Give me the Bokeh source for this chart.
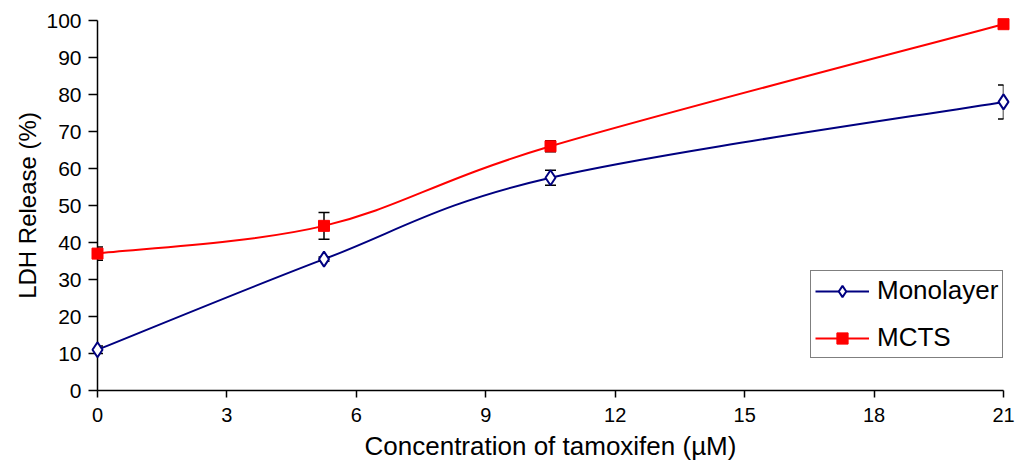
from bokeh.plotting import figure
from bokeh.models import (Range1d, FixedTicker, Whisker, TeeHead, ColumnDataSource,
                          Legend, LegendItem)
from bokeh.embed import file_html
from bokeh.resources import INLINE

# ---- data ----
conc = [0, 5.25, 10.5, 21]
mono = [11.0, 35.5, 57.5, 78.0]
mono_err = [1.0, 0.6, 2.0, 4.6]
mcts = [37.0, 44.5, 66.0, 99.0]
mcts_err = [1.8, 3.6, 1.5, 0.8]
x_ticks = [0, 3, 6, 9, 12, 15, 18, 21]
y_ticks = [0, 10, 20, 30, 40, 50, 60, 70, 80, 90, 100]

FONT = "Liberation Sans"
NAVY = "#000080"
RED = "#ff0000"

W, H = 1016, 469
BL, BR, BT, BB = 97, 13, 20, 79
p = figure(width=W, height=H, x_range=Range1d(0, 21), y_range=Range1d(0, 100),
           output_backend="svg", toolbar_location=None,
           min_border_left=BL, min_border_right=BR, min_border_top=BT, min_border_bottom=BB)
p.outline_line_color = None
p.grid.visible = False
p.background_fill_color = "white"

for ax in (p.xaxis[0], p.yaxis[0]):
    ax.axis_line_color = "black"
    ax.axis_line_width = 1.5
    ax.major_tick_line_color = "black"
    ax.major_tick_line_width = 1.5
    ax.minor_tick_line_color = None
    ax.major_tick_in = 0
    ax.major_label_text_font = FONT
    ax.major_label_text_color = "black"
    ax.axis_label_text_font = FONT
    ax.axis_label_text_font_style = "normal"
    ax.axis_label_text_color = "black"

p.xaxis.ticker = FixedTicker(ticks=x_ticks)
p.yaxis.ticker = FixedTicker(ticks=y_ticks)
p.xaxis.major_tick_out = 7
p.yaxis.major_tick_out = 9
p.xaxis.major_label_text_font_size = "20px"
p.yaxis.major_label_text_font_size = "21px"
p.xaxis.major_label_standoff = 10
p.yaxis.major_label_standoff = 7
p.xaxis.axis_label = "Concentration of tamoxifen (\u00b5M)"
p.yaxis.axis_label = "LDH Release (%)"
p.xaxis.axis_label_text_font_size = "26px"
p.yaxis.axis_label_text_font_size = "24px"
p.xaxis.axis_label_standoff = 6
p.yaxis.axis_label_standoff = 2

# smoothed (Excel-like) curve: cubic Bezier segments computed from the data
fw = W - BL - BR
fh = H - BT - BB
kx = fw / 21.0
ky = fh / 100.0


def smooth(xs, ys):
    P = [(x * kx, y * ky) for x, y in zip(xs, ys)]
    n = len(P)
    out = dict(x0=[], y0=[], x1=[], y1=[], cx0=[], cy0=[], cx1=[], cy1=[])
    for i in range(n - 1):
        p0 = P[i - 1] if i > 0 else P[i]
        p1 = P[i]
        p2 = P[i + 1]
        p3 = P[i + 2] if i + 2 < n else P[i + 1]
        c1 = (p1[0] + (p2[0] - p0[0]) / 6, p1[1] + (p2[1] - p0[1]) / 6)
        c2 = (p2[0] - (p3[0] - p1[0]) / 6, p2[1] - (p3[1] - p1[1]) / 6)
        out["x0"].append(p1[0] / kx); out["y0"].append(p1[1] / ky)
        out["x1"].append(p2[0] / kx); out["y1"].append(p2[1] / ky)
        out["cx0"].append(c1[0] / kx); out["cy0"].append(c1[1] / ky)
        out["cx1"].append(c2[0] / kx); out["cy1"].append(c2[1] / ky)
    return ColumnDataSource(out)


p.bezier(x0="x0", y0="y0", x1="x1", y1="y1", cx0="cx0", cy0="cy0", cx1="cx1", cy1="cy1",
         source=smooth(conc, mono), line_color=NAVY, line_width=2, level="annotation")
p.bezier(x0="x0", y0="y0", x1="x1", y1="y1", cx0="cx0", cy0="cy0", cx1="cx1", cy1="cy1",
         source=smooth(conc, mcts), line_color=RED, line_width=2, level="annotation")

# error bars
for vals, errs in ((mono, mono_err), (mcts, mcts_err)):
    src = ColumnDataSource(dict(x=conc,
                                upper=[v + e for v, e in zip(vals, errs)],
                                lower=[v - e for v, e in zip(vals, errs)]))
    wk = Whisker(source=src, base="x", upper="upper", lower="lower",
                 line_color="black", line_width=1.5, level="annotation",
                 upper_head=TeeHead(size=11, line_color="black", line_width=1.5),
                 lower_head=TeeHead(size=11, line_color="black", line_width=1.5))
    p.add_layout(wk)

# markers
s_mono = p.scatter(conc, mono, marker="diamond", size=15, fill_color="white",
                   line_color=NAVY, line_width=2, level="overlay")
s_mcts = p.scatter(conc, mcts, marker="square", size=11, fill_color=RED,
                   line_color=RED, line_width=1, level="overlay")

# legend line proxies (one NaN point: draws nothing in the plot)
nan = float("nan")
l_mono = p.line(x=[nan], y=[nan], line_color=NAVY, line_width=2)
l_mcts = p.line(x=[nan], y=[nan], line_color=RED, line_width=2)

legend = Legend(items=[LegendItem(label="Monolayer", renderers=[l_mono, s_mono]),
                       LegendItem(label="MCTS", renderers=[l_mcts, s_mcts])],
                location=(713, 32), orientation="vertical",
                border_line_color="black", border_line_width=1.2,
                background_fill_color="white", background_fill_alpha=1,
                padding=4, spacing=16, margin=0,
                glyph_width=54, glyph_height=28, label_height=28, label_standoff=8,
                label_text_font=FONT, label_text_font_size="26px",
                label_text_color="black")
p.add_layout(legend)

open("out.html", "w").write(file_html(p, INLINE))
